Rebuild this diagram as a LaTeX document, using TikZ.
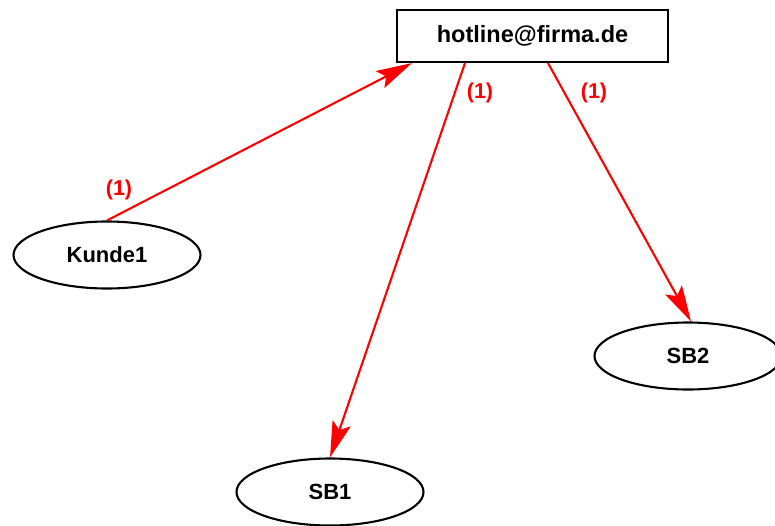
\documentclass[tikz,border=0pt]{standalone}
\usepackage{fontspec}
\setmainfont{Liberation Sans}
\usetikzlibrary{arrows.meta,shapes.geometric}
\begin{document}
\begin{tikzpicture}[x=1pt,y=-1pt,
  ell/.style={font=\fontsize{22}{26}\selectfont\bfseries,draw,ellipse,line width=2.1pt,minimum width=187pt,minimum height=67pt,inner sep=0pt},
  boxnode/.style={font=\fontsize{23.5}{27}\selectfont\bfseries,draw,rectangle,line width=2.1pt,minimum width=271pt,minimum height=52pt},
  link/.style={red,line width=2.1pt,-{Stealth[length=36pt,width=19pt,inset=7pt]}},
  lab/.style={red,font=\fontsize{21.5}{25}\selectfont\bfseries,inner sep=0pt}]
\useasboundingbox (0,0) rectangle (775,525);
\node[boxnode] (hot) at (532.5,36) {hotline@firma.de};
\node[ell] (k) at (107,255) {Kunde1};
\node[ell] (sb1) at (330,492) {SB1};
\node[ell] (sb2) at (688,356) {SB2};
\draw[link] (k.north) -- ([xshift=-120.5pt]hot.south);
\draw[link] ([xshift=-67.5pt]hot.south) -- (sb1.north);
\draw[link] ([xshift=15.5pt]hot.south) -- ([xshift=3pt]sb2.north);
\node[lab] (l1) at (119,190) {(1)};
\node[lab] (l2) at (480,93) {(1)};
\node[lab] (l3) at (594,93) {(1)};
\end{tikzpicture}
\end{document}
